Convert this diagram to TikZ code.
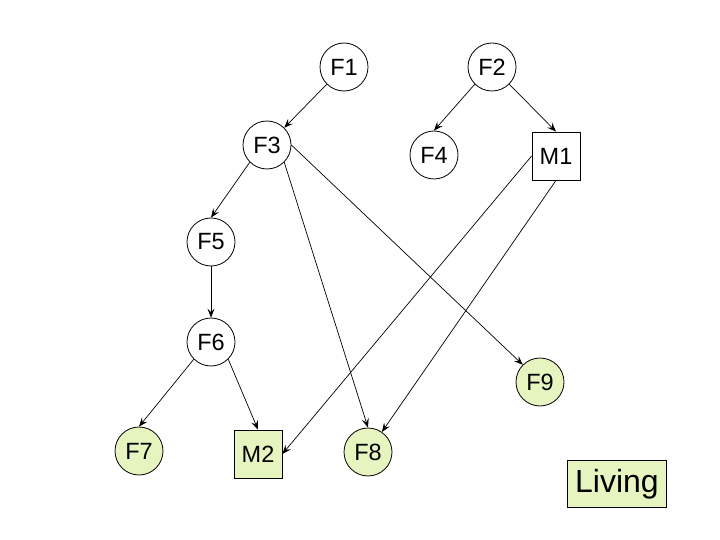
\documentclass[tikz,border=0pt]{standalone}
\usepackage{fontspec}
\setmainfont{Liberation Sans}
\usetikzlibrary{arrows.meta}
\definecolor{living}{HTML}{E6F5C0}
\tikzset{
  circ/.style={circle,draw,line width=0.8pt,minimum size=48pt,inner sep=0pt,font=\fontsize{23.5}{26}\selectfont},
  sq/.style={rectangle,draw,line width=0.8pt,minimum size=48pt,inner sep=0pt,font=\fontsize{23.5}{26}\selectfont},
  live/.style={fill=living},
  arr/.style={line width=0.7pt,-{Stealth[length=9pt,width=7pt,inset=3.5pt]}}
}
\begin{document}
\begin{tikzpicture}[x=1pt,y=-1pt]
\useasboundingbox (0,0) rectangle (720,540);
\node[circ] (F1) at (344,67) {F1};
\node[circ] (F2) at (492,67) {F2};
\node[circ] (F3) at (267,145) {F3};
\node[circ] (F4) at (434,155) {F4};
\node[sq] (M1) at (556,156) {M1};
\node[circ] (F5) at (211,242) {F5};
\node[circ] (F6) at (211,342) {F6};
\node[circ,live] (F7) at (139,451) {F7};
\node[sq,live] (M2) at (258,454) {M2};
\node[circ,live] (F8) at (368,452) {F8};
\node[circ,live] (F9) at (540,382) {F9};
\node[draw,live,line width=0.8pt,minimum width=99pt,minimum height=47pt,inner sep=0pt,font=\fontsize{32}{36}\selectfont] (L) at (617,484) {Living};
\draw[arr] (F1.south west) -- (F3.north east);
\draw[arr] (F2.south west) -- (F4.north);
\draw[arr] (F2.south east) -- (M1.north);
\draw[arr] (F3.south west) -- (F5.north);
\draw[arr] (F3.south east) -- (F8.north);
\draw[arr] (F3.east) -- (F9.north west);
\draw[arr] (F5.south) -- (F6.north);
\draw[arr] (F6.south west) -- (F7.north);
\draw[arr] (F6.south east) -- (M2.north);
\draw[arr] (M1.west) -- (M2.east);
\draw[arr] (M1.south) -- (F8);
\end{tikzpicture}
\end{document}
